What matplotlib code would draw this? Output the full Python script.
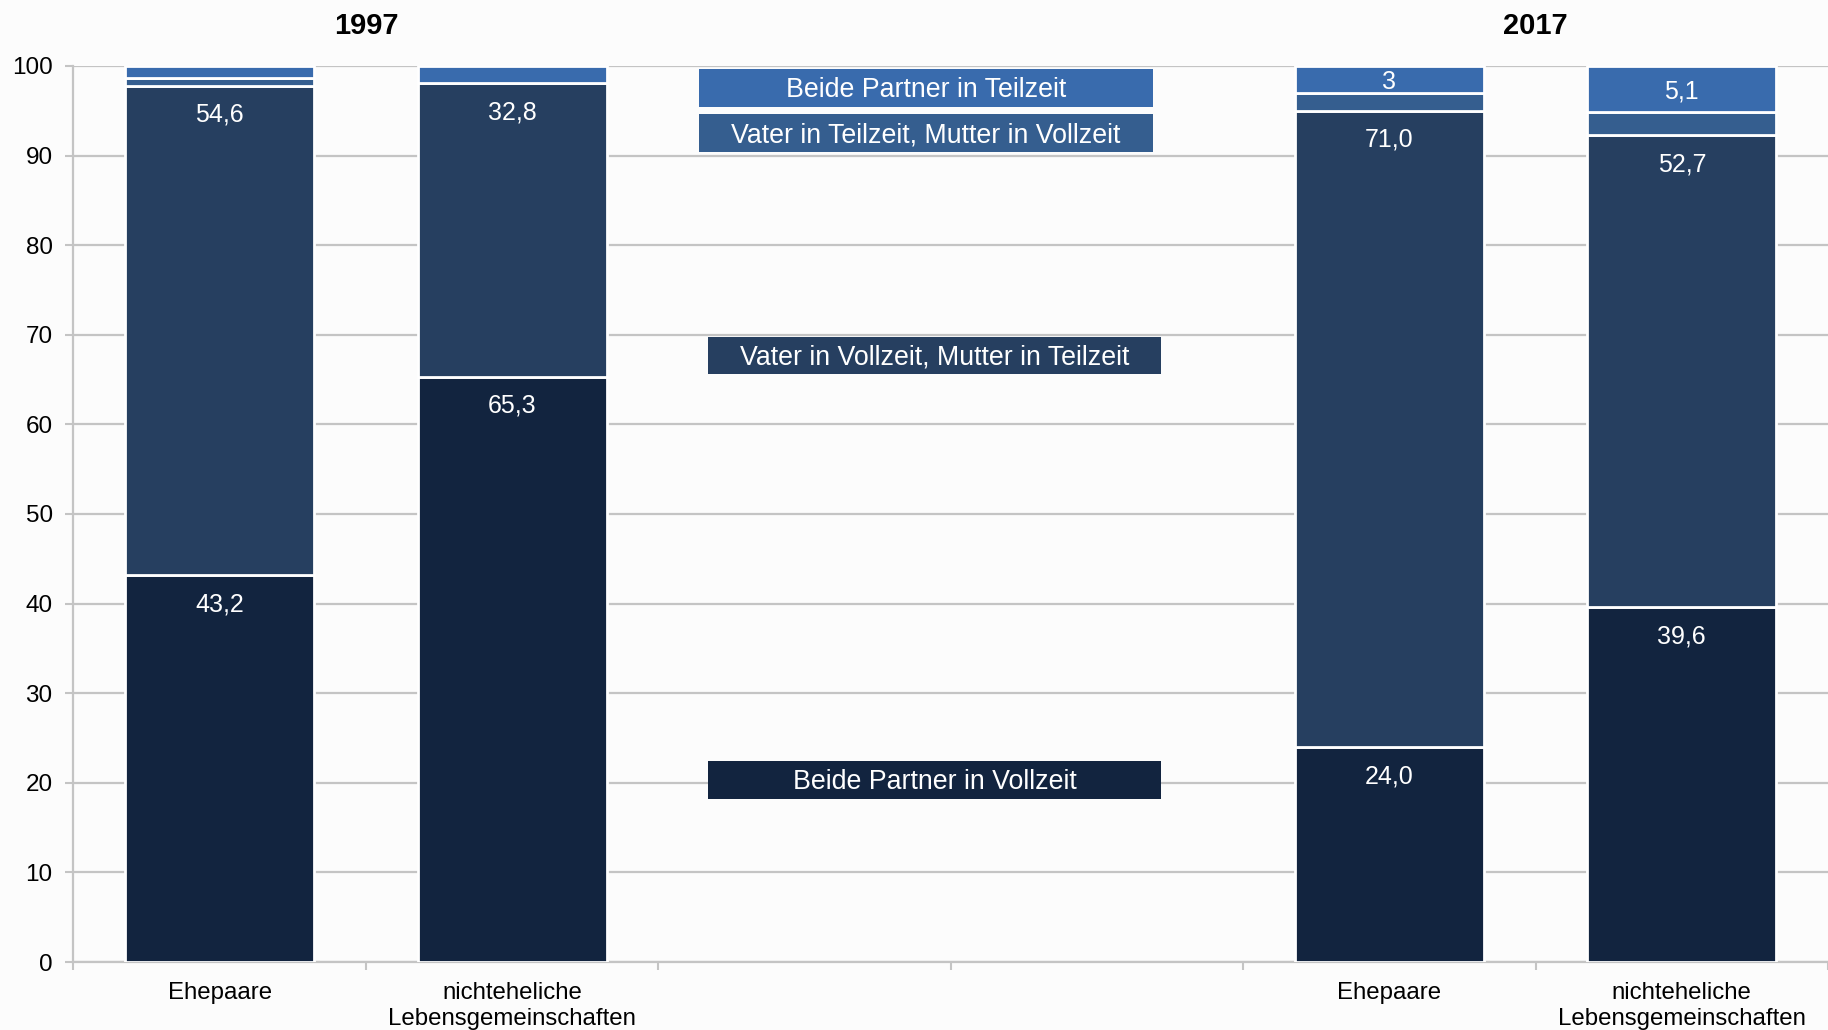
import numpy as np
import matplotlib
matplotlib.use("Agg")
import matplotlib.pyplot as plt
from matplotlib.patches import Rectangle

plt.rcParams['font.family'] = ['Liberation Sans', 'DejaVu Sans']

# ---- data ----
categories = ["Ehepaare", "nichteheliche\nLebensgemeinschaften", "", "",
              "Ehepaare", "nichteheliche\nLebensgemeinschaften"]
years = ["1997", "2017"]
series_names = ["Beide Partner in Vollzeit",
                "Vater in Vollzeit, Mutter in Teilzeit",
                "Vater in Teilzeit, Mutter in Vollzeit",
                "Beide Partner in Teilzeit"]
nan = np.nan
beide_vollzeit = [43.2, 65.3, nan, nan, 24.0, 39.6]
vater_voll_mutter_teil = [54.6, 32.8, nan, nan, 71.0, 52.7]
vater_teil_mutter_voll = [0.9, 0.0, nan, nan, 2.0, 2.6]
beide_teilzeit = [1.3, 1.9, nan, nan, 3.0, 5.1]
labels_bt = ["", "", "", "", "3", "5,1"]
yticks = [0, 10, 20, 30, 40, 50, 60, 70, 80, 90, 100]

colors = ["#12243F", "#263F60", "#355E8F", "#396BAD"]
bg = "#FCFCFC"
grid_c = "#C4C4C4"

fig = plt.figure(figsize=(18.28, 10.30), dpi=100, facecolor=bg)
ax = fig.add_axes([0.0402, 0.066, 0.9598, 0.870], facecolor=bg)

x = np.arange(len(categories))
series = [beide_vollzeit, vater_voll_mutter_teil, vater_teil_mutter_voll, beide_teilzeit]
width = 0.646
bottom = np.zeros(len(categories))
valid = ~np.isnan(np.array(beide_vollzeit))
for vals, col in zip(series, colors):
    v = np.array(vals, dtype=float)
    ax.bar(x[valid], v[valid], width, bottom=bottom[valid], color=col,
           edgecolor="white", linewidth=2, zorder=3)
    bottom[valid] += v[valid]

# value labels
def fmt(v):
    return f"{v:.1f}".replace(".", ",")

dy = 0.25  # small downward nudge for optical centring
for i in range(len(categories)):
    if not valid[i]:
        continue
    top1 = beide_vollzeit[i]
    ax.text(x[i], top1 - 3.0 - dy, fmt(beide_vollzeit[i]), ha="center", va="center",
            color="white", fontsize=18, zorder=5)
    top2 = top1 + vater_voll_mutter_teil[i]
    ax.text(x[i], top2 - 3.0 - dy, fmt(vater_voll_mutter_teil[i]), ha="center",
            va="center", color="white", fontsize=18, zorder=5)
    if labels_bt[i]:
        top4 = top2 + vater_teil_mutter_voll[i] + beide_teilzeit[i]
        ax.text(x[i], top4 - beide_teilzeit[i] / 2 - dy, labels_bt[i], ha="center",
                va="center", color="white", fontsize=18, zorder=5)

# series label boxes (in-chart legend)
box_specs = [  # (x0, x1, y0, y1) in data coordinates
    (1.67, 3.22, 18.2, 22.4),
    (1.67, 3.22, 65.6, 69.75),
    (1.64, 3.19, 90.4, 94.6),
    (1.64, 3.19, 95.4, 99.7),
]
for name, col, (x0, x1, y0, y1) in zip(series_names, colors, box_specs):
    ax.add_patch(Rectangle((x0, y0), x1 - x0, y1 - y0, facecolor=col,
                           edgecolor="none", zorder=4))
    ax.text((x0 + x1) / 2, (y0 + y1) / 2 - dy, name, ha="center", va="center",
            color="white", fontsize=19.3, zorder=5)

# year titles
for yr, xc in zip(years, [0.5, 4.5]):
    ax.text(xc, 104.4, yr, ha="center", va="center", fontsize=21,
            fontweight="bold", clip_on=False)

ax.set_xlim(-0.5, 5.47)
ax.set_ylim(0, 100)
ax.set_yticks(yticks)
ax.set_yticklabels([str(t) for t in yticks], fontsize=17.5)
ax.set_xticks(x)
ax.set_xticklabels(categories, fontsize=17.3, linespacing=1.22)
ax.tick_params(axis="x", which="major", length=0, pad=14.5)
ax.set_xticks(np.arange(-0.5, 6.0, 1.0), minor=True)
ax.tick_params(axis="x", which="minor", length=6, width=1.5, color=grid_c)
ax.tick_params(axis="y", length=6, width=1.5, color=grid_c, pad=9)

ax.yaxis.grid(True, color=grid_c, linewidth=1.6, zorder=0)
ax.set_axisbelow(True)
for s in ["top", "right"]:
    ax.spines[s].set_visible(False)
for s in ["left", "bottom"]:
    ax.spines[s].set_color(grid_c)
    ax.spines[s].set_linewidth(1.6)

fig.savefig("out.png", dpi=100, facecolor=bg)
